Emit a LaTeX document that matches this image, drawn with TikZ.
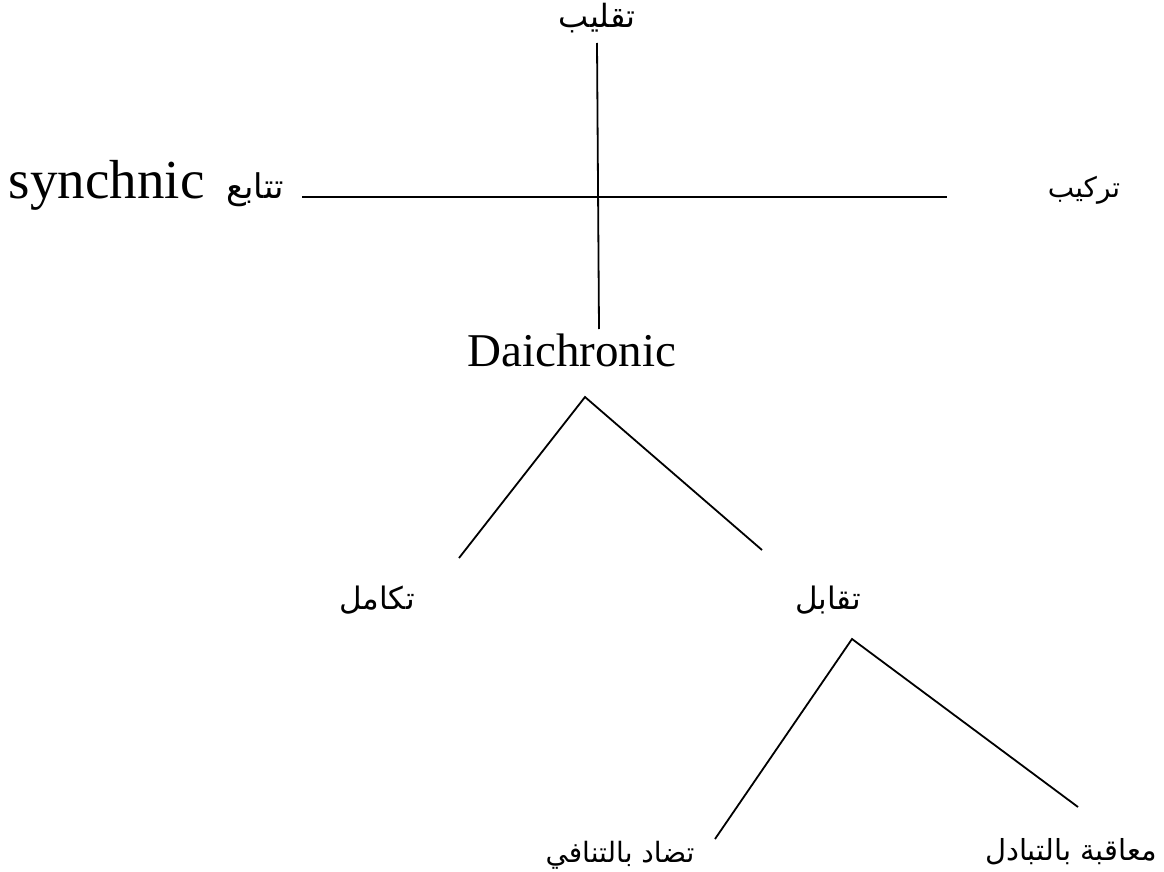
\documentclass[tikz,border=0pt]{standalone}
\usepackage{fontspec}
\setmainfont{Liberation Serif}
\newfontfamily\arabicfont[Script=Arabic]{DejaVu Sans}
\TeXXeTstate=1
\usetikzlibrary{positioning}
\newcommand{\ar}[1]{{\arabicfont\beginR #1\endR}}

\begin{document}
\begin{tikzpicture}[x=1pt,y=-1pt,line width=1.8pt,every node/.style={inner sep=0pt,font=\fontsize{30}{34}\selectfont},big/.style={font=\fontsize{47}{52}\selectfont}]
\useasboundingbox (0,0) rectangle (1164,872);
\node[font=\fontsize{32}{36}\selectfont] (taqlib) at (597,18) {\ar{تقليب}};
\node[anchor=base west,font=\fontsize{55}{60}\selectfont] (sync) at (8,198) {synchnic\hspace{22pt}{\fontsize{34}{38}\selectfont\ar{تتابع}}};
\node[font=\fontsize{28}{32}\selectfont] (tarkib) at (1084,190) {\ar{تركيب}};
\node[big] (daich) at (572,350) {Daichronic};
\node[font=\fontsize{31}{36}\selectfont] (takamul) at (377,600) {\ar{تكامل}};
\node[font=\fontsize{31}{36}\selectfont] (taqabul) at (828,600) {\ar{تقابل}};
\node[font=\fontsize{28}{32}\selectfont] (tadad) at (620,855) {\ar{تضاد بالتنافي}};
\node[font=\fontsize{29}{32}\selectfont] (muaqaba) at (1071,852) {\ar{معاقبة بالتبادل}};
\coordinate (vtop) at (597,43);\coordinate (vbot) at (599,329);
\coordinate (hl) at (302,197);\coordinate (hr) at (947,197);
\coordinate (t1) at (585,397);\coordinate (t1l) at (459,558);\coordinate (t1r) at (762,550);
\coordinate (t2) at (852,639);\coordinate (t2l) at (715,839);\coordinate (t2r) at (1078,807);
\draw (vtop)--(vbot);\draw (hl)--(hr);
\draw (t1l)--(t1)--(t1r);\draw (t2l)--(t2)--(t2r);
\end{tikzpicture}
\end{document}
